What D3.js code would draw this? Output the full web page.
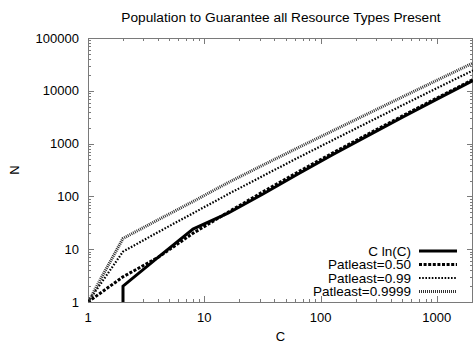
<!DOCTYPE html>
<html>
<head>
<meta charset="utf-8">
<script src="https://cdn.jsdelivr.net/npm/d3@7"></script>
<style>
  html, body { margin: 0; padding: 0; background: #fff; }
  svg { display: block; font-family: "Liberation Sans", Arial, Helvetica, sans-serif; }
</style>
</head>
<body>
<svg id="chart" width="474" height="343"></svg>
<script>
// ---- Data ----
const title = "Population to Guarantee all Resource Types Present";
const xLabel = "C";
const yLabel = "N";
const xTickValues = [1, 10, 100, 1000];
const yTickValues = [1, 10, 100, 1000, 10000, 100000];

const C = [1, 2, 4, 8, 16, 32, 64, 128, 256, 512, 1024, 2048];
const cLnC_C = [2, 2, 4, 8, 16, 32, 64, 128, 256, 512, 1024, 2048];
const cLnC_N = [1, 2, 7, 24, 48, 111, 266, 621, 1420, 3190, 7100, 15600];
const pAtLeast050 = [1, 3, 7, 20, 50, 122, 290, 668, 1510, 3380, 7470, 16300];
const pAtLeast099 = [1, 9, 21, 48, 110, 245, 540, 1170, 2520, 5400, 11500, 24300];
const pAtLeast09999 = [1, 16, 36, 80, 182, 392, 835, 1760, 3700, 7750, 16200, 33600];

const seriesNames = ["C ln(C)", "Patleast=0.50", "Patleast=0.99", "Patleast=0.9999"];

// ---- Layout ----
const svg = d3.select("#chart");
const L = 88, R = 473, T = 38, B = 302;
const x = d3.scaleLog().domain([1, 2048]).range([L, R]);
const y = d3.scaleLog().domain([1, 100000]).range([B, T]);

const styles = [
  { width: 3, dash: null, color: "#000" },
  { width: 3, dash: "3,1.6", color: "#000" },
  { width: 2.2, dash: "1.6,1.6", color: "#000" },
  { width: 3, dash: "1,1", color: "#333" }
];

const series = [
  { name: seriesNames[0], xs: cLnC_C, ys: cLnC_N, style: styles[0] },
  { name: seriesNames[1], xs: C, ys: pAtLeast050, style: styles[1] },
  { name: seriesNames[2], xs: C, ys: pAtLeast099, style: styles[2] },
  { name: seriesNames[3], xs: C, ys: pAtLeast09999, style: styles[3] }
];

const borderColor = "#7a7a7a";

// ticks
const minorX = [];
[1, 10, 100, 1000].forEach(d => { for (let k = 2; k <= 9; k++) { const v = d * k; if (v <= 2048) minorX.push(v); } });
const minorY = [];
[1, 10, 100, 1000, 10000].forEach(d => { for (let k = 2; k <= 9; k++) minorY.push(d * k); });

const tickG = svg.append("g").attr("stroke", borderColor).attr("stroke-width", 1).attr("shape-rendering", "crispEdges");
const majorLen = 6, minorLen = 3;
xTickValues.forEach(v => {
  const px = Math.round(x(v)) + 0.5;
  tickG.append("line").attr("x1", px).attr("x2", px).attr("y1", B).attr("y2", B - majorLen);
  tickG.append("line").attr("x1", px).attr("x2", px).attr("y1", T).attr("y2", T + majorLen);
});
minorX.forEach(v => {
  const px = Math.round(x(v)) + 0.5;
  tickG.append("line").attr("x1", px).attr("x2", px).attr("y1", B).attr("y2", B - minorLen);
  tickG.append("line").attr("x1", px).attr("x2", px).attr("y1", T).attr("y2", T + minorLen);
});
yTickValues.forEach(v => {
  const py = Math.round(y(v)) + 0.5;
  tickG.append("line").attr("x1", L).attr("x2", L + majorLen).attr("y1", py).attr("y2", py);
  tickG.append("line").attr("x1", R).attr("x2", R - majorLen).attr("y1", py).attr("y2", py);
});
minorY.forEach(v => {
  const py = Math.round(y(v)) + 0.5;
  tickG.append("line").attr("x1", L).attr("x2", L + minorLen).attr("y1", py).attr("y2", py);
  tickG.append("line").attr("x1", R).attr("x2", R - minorLen).attr("y1", py).attr("y2", py);
});

// border
svg.append("rect").attr("x", L + 0.5).attr("y", T + 0.5).attr("width", R - L - 1).attr("height", B - T)
  .attr("fill", "none").attr("stroke", borderColor).attr("stroke-width", 1).attr("shape-rendering", "crispEdges");

// tick labels
const fs = 13;
svg.append("g").selectAll("text").data(yTickValues).join("text")
  .attr("x", 79).attr("y", d => y(d)).attr("dy", "0.35em")
  .attr("text-anchor", "end").attr("font-size", fs).attr("fill", "#000")
  .text(d => String(d));
svg.append("g").selectAll("text").data(xTickValues).join("text")
  .attr("x", d => x(d)).attr("y", 322)
  .attr("text-anchor", "middle").attr("font-size", fs).attr("fill", "#000")
  .text(d => String(d));

// axis labels and title
svg.append("text").attr("x", (L + R) / 2).attr("y", 341).attr("text-anchor", "middle")
  .attr("font-size", fs).text(xLabel);
svg.append("text").attr("transform", `translate(19,${(T + B) / 2}) rotate(-90)`)
  .attr("text-anchor", "middle").attr("font-size", fs).text(yLabel);
svg.append("text").attr("x", (L + R) / 2 + 0.5).attr("y", 22).attr("text-anchor", "middle")
  .attr("font-size", 13.7).text(title);

// clip
svg.append("defs").append("clipPath").attr("id", "clip")
  .append("rect").attr("x", L).attr("y", T).attr("width", R - L).attr("height", B - T);

const line = d3.line().x(d => x(d[0])).y(d => y(d[1]));
const lineG = svg.append("g").attr("clip-path", "url(#clip)");
series.forEach(s => {
  const pts = s.xs.map((c, i) => [c, s.ys[i]]);
  lineG.append("path").datum(pts).attr("d", line)
    .attr("fill", "none").attr("stroke", s.style.color)
    .attr("stroke-width", s.style.width)
    .attr("stroke-dasharray", s.style.dash)
    .attr("stroke-linejoin", "miter");
});

// legend
const legY0 = 251, legDy = 13.5;
series.forEach((s, i) => {
  const ly = legY0 + i * legDy;
  svg.append("text").attr("x", 411).attr("y", ly).attr("dy", "0.35em")
    .attr("text-anchor", "end").attr("font-size", 13.5).text(s.name);
  svg.append("line").attr("x1", 419).attr("x2", 457).attr("y1", ly).attr("y2", ly)
    .attr("stroke", s.style.color).attr("stroke-width", s.style.width)
    .attr("stroke-dasharray", s.style.dash);
});
</script>
</body>
</html>
